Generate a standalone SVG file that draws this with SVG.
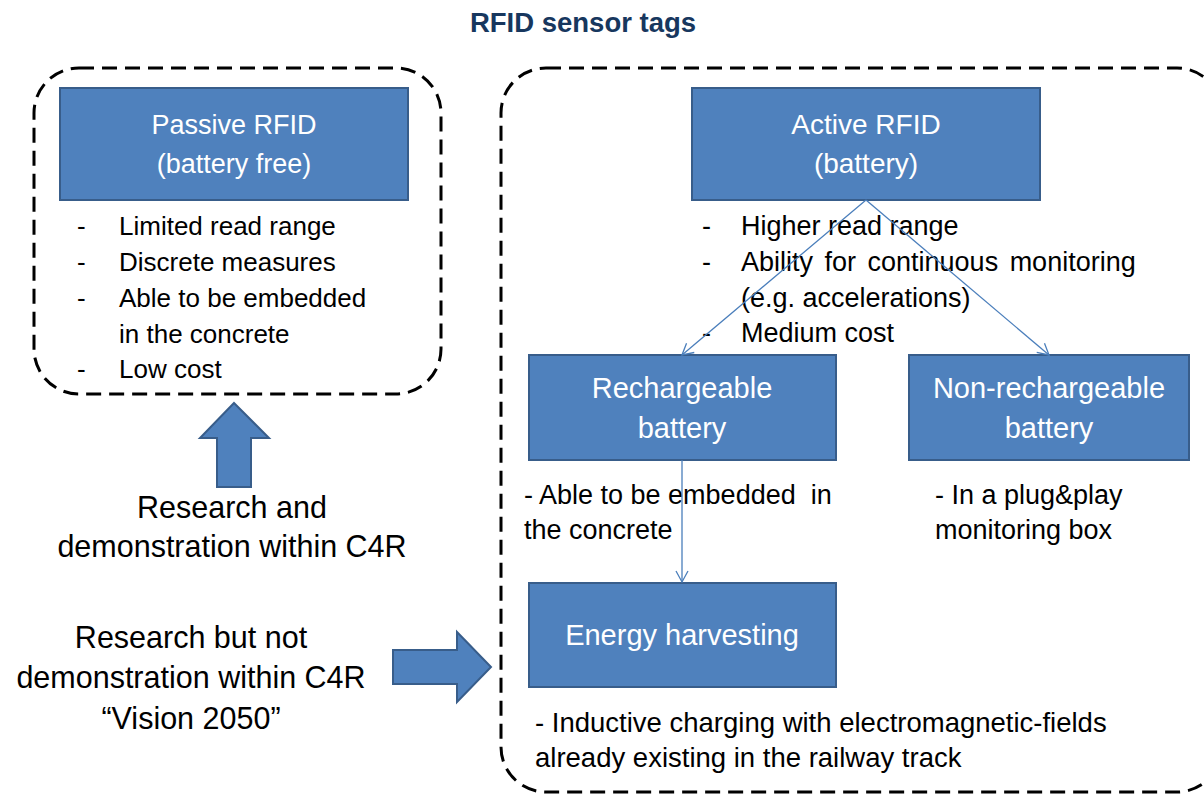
<svg xmlns="http://www.w3.org/2000/svg" width="1204" height="794" viewBox="0 0 1204 794">
<style>
text{font-family:"Liberation Sans",Arial,sans-serif;}
.box{fill:#4F81BD;stroke:#385D8A;stroke-width:2;}
.bt{fill:#FFFFFF;text-anchor:middle;}
.dash{fill:none;stroke:#000;stroke-width:3;stroke-dasharray:15 8;}
.t{fill:#000;}
.c{text-anchor:middle;}
.con{stroke:#4A7EBB;stroke-width:1.3;fill:none;}
</style>
<defs>
<marker id="ah" markerUnits="userSpaceOnUse" markerWidth="14" markerHeight="14" refX="12" refY="7" orient="auto">
<path d="M1,1 L12,7 L1,13" fill="none" stroke="#4A7EBB" stroke-width="1.3"/>
</marker>
</defs>
<rect width="1204" height="794" fill="#FFFFFF"/>
<text x="583" y="32" font-size="27.5" font-weight="bold" fill="#17375E" class="c">RFID sensor tags</text>

<g id="passive-group">
<rect class="dash" x="34" y="68" width="407" height="326" rx="45"/>
<g id="passive">
<rect class="box" x="60" y="88" width="348" height="112"/>
<text class="bt" x="234" y="134" font-size="27">Passive RFID</text>
<text class="bt" x="234" y="173" font-size="27">(battery free)</text>
</g>
<g class="t" font-size="26">
<text x="77" y="235">-</text><text x="119" y="235">Limited read range</text>
<text x="77" y="271">-</text><text x="119" y="271">Discrete measures</text>
<text x="77" y="307">-</text><text x="119" y="307">Able to be embedded</text>
<text x="119" y="343">in the concrete</text>
<text x="77" y="378">-</text><text x="119" y="378">Low cost</text>
</g>
</g>

<g id="active-group">
<rect class="dash" x="501" y="68" width="721" height="724" rx="45"/>
<g id="active">
<rect class="box" x="692" y="88" width="348" height="112"/>
<text class="bt" x="866" y="134" font-size="28">Active RFID</text>
<text class="bt" x="866" y="173" font-size="28">(battery)</text>
</g>
<g class="t" font-size="27">
<text x="702" y="235">-</text><text x="741" y="235">Higher read range</text>
<text x="702" y="271">-</text><text x="741" y="271" word-spacing="4">Ability for continuous monitoring</text>
<text x="741" y="307">(e.g. accelerations)</text>
<text x="702" y="342">-</text><text x="741" y="342">Medium cost</text>
</g>
<g id="rechargeable">
<rect class="box" x="529" y="355" width="307" height="105"/>
<text class="bt" x="682" y="398" font-size="29">Rechargeable</text>
<text class="bt" x="682" y="438" font-size="29">battery</text>
</g>
<g id="nonrechargeable">
<rect class="box" x="909" y="355" width="280" height="105"/>
<text class="bt" x="1049" y="398" font-size="29">Non-rechargeable</text>
<text class="bt" x="1049" y="438" font-size="29">battery</text>
</g>
<g class="t" font-size="27">
<text x="524" y="504" xml:space="preserve">- Able to be embedded  in</text>
<text x="524" y="539">the concrete</text>
<text x="935" y="504">- In a plug&amp;play</text>
<text x="935" y="539">monitoring box</text>
</g>
<g id="energy">
<rect class="box" x="529" y="583" width="307" height="104"/>
<text class="bt" x="682" y="645" font-size="29">Energy harvesting</text>
</g>
<g class="t" font-size="27.5">
<text x="535" y="732">- Inductive charging with electromagnetic-fields</text>
<text x="535" y="767">already existing in the railway track</text>
</g>
</g>

<g id="connectors">
<line class="con" x1="866" y1="200" x2="682" y2="355" marker-end="url(#ah)"/>
<line class="con" x1="866" y1="200" x2="1049" y2="355" marker-end="url(#ah)"/>
<line class="con" x1="682" y1="460" x2="682" y2="582" marker-end="url(#ah)"/>
</g>

<g id="arrow-up">
<polygon class="box" points="234,403 269,438 251,438 251,487 217,487 217,438 200,438"/>
</g>
<g id="label-demo" class="t c" font-size="30.5">
<text x="232" y="518">Research and</text>
<text x="232" y="557">demonstration within C4R</text>
</g>

<g id="arrow-right">
<polygon class="box" points="393,650 457,650 457,632 491,667 457,702 457,684 393,684"/>
</g>
<g id="label-vision" class="t c" font-size="30.5">
<text x="191" y="648">Research but not</text>
<text x="191" y="688">demonstration within C4R</text>
<text x="191" y="729">“Vision 2050”</text>
</g>
</svg>
